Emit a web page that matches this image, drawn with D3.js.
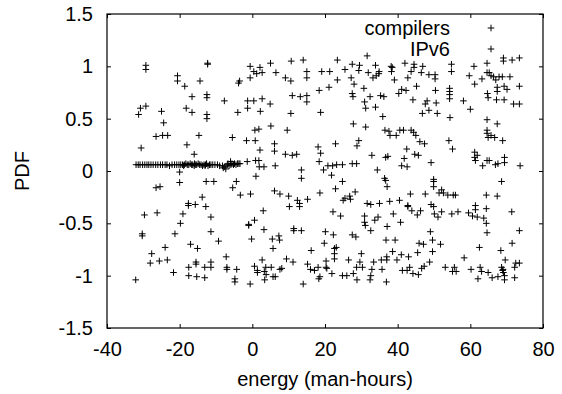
<!DOCTYPE html>
<html>
<head>
<meta charset="utf-8">
<script src="https://cdn.jsdelivr.net/npm/d3@7"></script>
<style>
  body { margin: 0; background: #fff; }
  text { font-family: "Liberation Sans", Arial, sans-serif; font-size: 20px; fill: #000; }
</style>
</head>
<body>
<svg width="562" height="394"></svg>
<script>
// series: [energy, PDF]
const compilers = [
  [-32.1,-1.04],[-31.3,0.54],[-30.8,0.60],[-30.6,0.22],[-30.3,-0.60],[-30.3,-0.62],[-29.7,-0.42],[-29.3,0.62],[-29.3,1.01],[-29.3,0.97],
  [-27.7,-0.79],[-28.1,-0.88],[-26.5,-0.16],[-26.5,0.33],[-26.2,-0.40],[-25.6,-0.86],[-25.0,0.57],[-24.4,0.46],[-24.7,0.34],[-23.3,0.34],
  [-25.4,-0.15],[-24.0,-0.73],[-23.4,-0.85],[-21.7,-0.97],[-21.3,-0.60],[-20.6,0.91],[-20.6,0.86],[-20.0,-0.01],[-20.0,-0.11],[-19.8,-0.50],
  [-19.1,-0.41],[-18.6,0.81],[-18.2,0.60],[-18.0,0.25],[-17.6,-0.31],[-17.6,-0.33],[-17.5,-0.92],[-17.5,-1.00],[-17.0,-0.70],[-16.6,0.71],
  [-16.6,0.56],[-16.0,0.16],[-15.7,-0.32],[-15.5,-0.87],[-15.5,-0.89],[-15.1,-0.74],[-15.3,-1.01],[-14.7,0.34],[-14.4,0.86],[-13.8,-0.25],
  [-13.1,-0.92],[-13.1,-1.02],[-12.7,-0.10],[-12.8,-0.34],[-12.3,1.03],[-12.3,1.02],[-12.5,0.73],[-12.5,0.70],[-12.5,0.54],[-12.5,0.50],
  [-11.4,-0.92],[-11.4,-0.87],[-11.4,-0.44],[-11.4,-0.58],[-10.6,-0.10],[-9.3,-0.67],[-7.7,0.67],[-7.2,-0.82],[-7.0,-0.92],[-7.0,-0.94],
  [-5.5,0.32],[-5.4,-0.16],[-4.8,-1.03],[-4.8,-1.06],[-4.4,-0.10],[-4.3,-0.94],[-4.0,0.56],[-3.8,0.84],[-3.5,0.86],[-3.3,-0.23],
  // flat run near 0.06
  [-32.0,0.06],[-31.4,0.06],[-30.9,0.06],[-30.2,0.06],[-29.6,0.06],[-29.0,0.06],[-28.5,0.06],[-27.9,0.06],[-27.3,0.06],[-26.6,0.06],
  [-26.0,0.06],[-25.3,0.06],[-24.7,0.06],[-24.0,0.06],[-23.5,0.06],[-22.8,0.05],[-22.1,0.06],[-21.4,0.06],[-20.8,0.06],[-20.2,0.06],
  [-19.7,0.06],[-19.2,0.06],[-18.7,0.06],[-18.3,0.07],[-17.9,0.06],[-17.5,0.06],[-17.1,0.07],[-16.7,0.06],[-16.4,0.06],[-16.0,0.05],
  [-15.7,0.06],[-15.3,0.06],[-14.9,0.07],[-14.5,0.06],[-14.1,0.06],[-13.7,0.05],[-13.3,0.06],[-12.9,0.06],[-12.6,0.07],[-12.2,0.05],
  [-11.8,0.06],[-11.4,0.06],[-10.9,0.06],[-10.3,0.06],[-9.6,0.06],[-9.0,0.05],[-8.2,0.05],[-7.6,0.04],[-7.3,0.02],[-6.9,0.06],
  [-6.4,0.05],[-5.9,0.06],[-5.6,0.07],[-5.2,0.06],[-4.9,0.07],[-4.5,0.06],[-4.1,0.07],[-3.7,0.07],[-3.4,0.07],[-15.9,0.07],
  [-18.9,0.05],[-13.0,0.05],[-8.0,0.03],[-6.7,0.07],[-6.0,0.09],
  [-1.4,0.09],[-1.6,0.29],[-1.3,0.60],[-1.3,0.67],[-1.0,-0.52],[-1.0,-0.51],[-0.6,1.00],[-0.6,0.89],[-0.5,-0.22],[-0.6,-1.08],
  [-0.2,-0.65],[0.4,0.95],[0.4,0.67],[0.7,0.39],[0.8,0.29],[0.9,0.10],[0.6,-0.47],[1.0,-0.05],[0.6,-0.91],[1.2,0.93],
  [1.4,-0.95],[1.4,-0.97],[1.8,0.40],[1.9,0.04],[1.8,0.10],[2.1,0.20],[2.1,0.99],[2.2,0.57],[2.7,0.94],[2.7,0.69],
  [2.7,-0.85],[3.0,-0.38],[3.2,-0.56],[3.3,-0.96],[3.4,-1.04],[3.2,0.04],[3.7,-0.92],[3.8,-0.99],[5.0,1.03],[4.9,0.64],
  [5.1,0.43],[5.2,-0.92],[5.5,-0.65],[5.7,-0.74],[5.7,-1.01],[6.1,0.26],[6.1,0.19],[6.3,0.05],[6.1,-0.19],[6.3,-1.01],
  [6.5,0.94],[7.3,-0.62],[7.5,-0.66],[7.6,-0.22],[7.6,-0.94],[8.1,-0.93],[9.1,0.89],[9.1,0.16],[9.4,-0.84],[9.6,0.39],
  [10.0,-0.24],[10.2,-0.34],[10.6,0.86],[10.6,0.55],[10.7,1.05],[11.0,0.72],[11.0,0.15],[11.2,-0.87],[11.4,-0.55],[11.4,-0.57],
  [12.2,0.16],[12.4,-0.28],[13.0,-0.31],[13.0,-0.34],[13.5,-0.57],[13.5,0.01],[13.5,-0.07],[13.2,0.71],[14.0,1.06],[14.0,-1.08],
  [15.0,0.95],[15.0,0.89],[15.0,0.72],[15.0,0.66],[15.2,-0.27],[15.2,-0.89],[16.0,-0.94],[16.2,-0.76],[17.1,-0.95],[18.1,-0.92],
  [18.3,-1.03],[18.6,-1.01],[18.4,0.77],[18.8,0.56],[18.1,0.23],[18.4,0.09],[18.8,0.17],[18.6,-0.21],[19.1,0.95],[19.6,0.01],
  [19.8,-0.69],[20.1,-0.58],[20.3,-0.86],[20.3,-0.92],[20.5,-0.93],[20.8,0.05],[21.1,0.80],[21.3,0.95],[21.8,-0.04],[21.9,-0.98],
  [22.2,-0.39],[22.3,-0.61],[22.1,0.05],[22.6,-0.74],[22.6,-0.79],[22.6,-0.84],[22.9,-0.17],[22.9,0.26],[23.1,-0.73],[23.2,0.06],
  [23.4,1.06],[23.4,0.87],[24.3,-0.43],[24.8,-1.00],[24.8,0.06],[24.8,-0.10],[25.0,-0.28],[25.5,0.97],[25.5,-0.26],[26.0,-1.00],
  [26.5,-0.85],[26.8,-0.24],[27.0,-0.27],[27.2,0.89],[27.5,1.02],[27.5,0.74],[27.7,0.71],[27.8,0.45],[27.5,0.07],[27.8,-0.98],
  [27.5,-0.61],[28.0,0.83],[28.3,-0.20],[28.5,-0.63],[28.7,-0.92],[28.8,-1.04],[28.7,0.07],[28.8,0.24]
];

const ipv6 = [
  [29.3,0.29],[29.5,1.01],[29.3,0.96],[29.6,-0.87],[30.0,-0.79],[30.3,-0.92],[30.7,0.79],[30.9,0.66],[30.9,-0.43],[30.9,-0.49],
  [31.1,-0.52],[31.2,0.42],[31.2,0.60],[31.6,1.10],[31.6,-0.31],[31.9,0.94],[32.4,0.71],[32.4,-1.04],[32.6,-1.00],[32.6,-0.57],
  [32.6,-0.32],[32.9,-0.94],[32.9,0.15],[33.2,0.89],[33.4,-0.87],[33.7,-0.47],[33.9,0.61],[33.9,1.01],[34.1,0.91],[34.4,0.01],
  [34.6,-0.44],[34.8,0.93],[34.9,0.95],[35.0,-0.31],[35.3,0.72],[35.5,-0.85],[35.7,-0.94],[35.9,0.52],[36.2,0.71],[36.4,-0.07],
  [36.7,-0.09],[36.5,0.39],[36.7,0.13],[36.8,-0.66],[36.9,-1.06],[37.0,-0.85],[37.0,-0.82],[37.1,-0.15],[37.1,-0.53],[37.3,0.14],
  [37.6,0.38],[37.8,-0.29],[37.9,0.34],[38.2,1.00],[38.5,0.99],[38.3,0.95],[38.6,-0.77],[38.8,-0.41],[39.1,0.87],[39.3,-0.66],
  [39.6,0.34],[39.8,-0.85],[40.3,0.74],[40.5,-0.28],[40.6,0.39],[40.8,-0.49],[41.0,-0.80],[41.1,0.78],[41.1,0.05],[41.3,-0.95],
  [41.6,0.39],[41.8,0.12],[42.0,1.03],[42.3,0.77],[42.5,0.21],[42.6,-0.95],[42.6,0.04],[42.8,0.89],[42.8,-0.33],[42.8,-0.34],
  [43.0,-0.82],[43.3,-0.92],[43.5,-0.22],[43.7,0.39],[43.7,0.95],[43.9,-0.38],[44.2,0.68],[44.2,-0.98],[44.4,0.37],[44.5,1.02],
  [44.5,0.99],[44.7,0.16],[45.0,0.34],[45.2,0.81],[45.4,-0.42],[45.5,-0.78],[45.7,0.15],[45.7,-0.99],[45.9,-0.69],[46.1,0.28],
  [46.3,-0.38],[46.5,0.94],[46.6,-0.93],[46.8,0.55],[46.9,1.00],[47.1,-0.70],[47.3,-0.91],[47.4,0.26],[47.6,-0.22],[47.6,0.64],
  [48.1,0.67],[48.6,0.92],[48.6,0.58],[48.8,-0.87],[49.0,-0.58],[49.2,0.08],[49.2,-0.32],[49.6,-0.77],[49.6,-0.66],[49.9,-0.10],
  [49.9,-0.08],[49.9,-0.15],[49.9,-0.34],[50.1,-0.41],[50.3,0.92],[50.3,0.88],[50.4,0.77],[50.6,0.65],[50.9,0.55],[51.1,-0.44],
  [51.4,-0.21],[51.8,-0.70],[52.1,-0.18],[52.1,-0.39],[52.6,-0.21],[53.1,-0.92],[53.8,-0.23],[54.1,0.29],[54.3,0.79],[54.3,0.76],
  [54.3,0.73],[54.3,0.69],[54.4,0.51],[54.8,1.02],[54.8,0.95],[54.9,-0.41],[55.1,0.21],[55.1,-0.96],[55.3,-0.23],[55.6,-0.92],
  [55.9,-0.23],[56.1,-0.96],[56.6,-0.39],[58.1,0.67],[58.3,-0.83],[60.0,0.59],[59.5,-0.40],[59.7,0.91],[60.2,-0.94],[60.6,-0.43],
  [61.0,1.00],[61.2,0.83],[61.2,0.18],[61.2,0.13],[61.4,0.10],[61.4,-0.33],[61.4,-0.37],[61.9,-0.44],[62.1,-1.03],[61.9,0.15],
  [62.5,-0.73],[62.7,-0.92],[63.1,-0.96],[63.2,0.88],[63.4,0.05],[63.7,-0.45],[64.4,-0.36],[64.4,-0.50],[64.6,1.03],[64.6,0.94],
  [64.6,0.49],[64.7,0.74],[64.9,0.70],[64.6,0.39],[64.6,0.36],[64.9,0.32],[64.6,0.10],[64.4,-0.23],[64.6,-0.59],[64.9,-0.97],
  [65.2,0.94],[65.2,0.10],[65.7,0.91],[65.7,0.34],[66.0,-1.02],[66.4,0.90],[66.7,0.32],[66.9,0.06],[67.0,0.87],[67.2,0.68],
  [67.4,-0.24],[67.4,0.80],[67.4,0.76],[67.4,0.45],[67.6,-1.01],[67.6,0.07],[67.9,0.90],[68.4,-0.76],[68.6,-0.10],[68.6,-0.92],
  [68.9,-0.95],[69.1,-0.97],[69.4,-1.00],[69.4,-1.04],[69.0,-0.94],[68.8,0.90],[68.9,0.29],[69.1,1.08],[69.1,1.05],[69.3,0.68],
  [69.3,0.81],[69.4,0.13],[69.4,0.08],[69.6,-0.85],[70.1,0.78],[70.9,0.90],[71.4,-0.39],[71.5,-0.69],[71.5,1.06],[71.9,0.64],
  [72.2,-0.92],[72.2,-1.02],[72.5,-0.88],[73.5,0.64],[73.5,0.81],[73.5,1.08],[73.5,-0.57],[73.5,-0.88],[73.7,0.05]
];

const seriesNames = ['compilers', 'IPv6'];
const xTicks = [-40, -20, 0, 20, 40, 60, 80];
const yTicks = [-1.5, -1, -0.5, 0, 0.5, 1, 1.5];

const svg = d3.select('svg');
const margin = {top: 14, right: 19, bottom: 66, left: 107};
const width = +svg.attr('width');
const height = +svg.attr('height');
const innerWidth = width - margin.left - margin.right;
const innerHeight = height - margin.top - margin.bottom;

const xScale = d3.scaleLinear().domain([-40, 80]).range([0, innerWidth]);
const yScale = d3.scaleLinear().domain([-1.5, 1.5]).range([innerHeight, 0]);

const g = svg.append('g')
  .attr('transform', `translate(${margin.left},${margin.top})`);

const tick = 4;
// gnuplot writes a plain hyphen, not the unicode minus d3 uses
const hyphen = d => String(d).replace('\u2212', '-');

const styleAxis = sel => {
  sel.select('.domain').remove();
  sel.selectAll('.tick line').attr('stroke', '#000');
  sel.selectAll('.tick text').style('font-size', '20px');
};

// ticks point inward on all four sides
g.append('g')
  .attr('transform', `translate(0,${innerHeight})`)
  .call(d3.axisBottom(xScale).tickValues(xTicks).tickFormat(hyphen)
    .tickSizeInner(-tick).tickSizeOuter(0).tickPadding(14))
  .call(styleAxis);

g.append('g')
  .call(d3.axisTop(xScale).tickValues(xTicks).tickSizeInner(-tick).tickSizeOuter(0))
  .call(styleAxis)
  .selectAll('.tick text').remove();

g.append('g')
  .call(d3.axisLeft(yScale).tickValues(yTicks).tickFormat(hyphen)
    .tickSizeInner(-tick).tickSizeOuter(0).tickPadding(14))
  .call(styleAxis);

g.append('g')
  .attr('transform', `translate(${innerWidth},0)`)
  .call(d3.axisRight(yScale).tickValues(yTicks).tickSizeInner(-tick).tickSizeOuter(0))
  .call(styleAxis)
  .selectAll('.tick text').remove();

g.append('rect')
  .attr('width', innerWidth)
  .attr('height', innerHeight)
  .attr('fill', 'none')
  .attr('stroke', '#000')
  .attr('stroke-width', 1.2);

const arm = 3.3;
const plus = sel => sel.append('path')
  .attr('d', `M${-arm},0H${arm}M0,${-arm}V${arm}`)
  .attr('stroke', '#000')
  .attr('stroke-width', 1)
  .attr('fill', 'none');

[compilers, ipv6].forEach(data => {
  g.append('g').selectAll('g').data(data)
    .enter().append('g')
      .attr('transform', d => `translate(${xScale(d[0])},${yScale(d[1])})`)
      .call(plus);
});

// legend
const legend = g.append('g').attr('transform', `translate(${innerWidth - 52},0)`);
seriesNames.forEach((name, i) => {
  const row = legend.append('g').attr('transform', `translate(0,${14 + i * 21})`);
  row.append('text')
    .attr('x', -41)
    .attr('y', 6.5)
    .attr('text-anchor', 'end')
    .text(name);
  row.call(plus);
});

// axis titles
g.append('text')
  .attr('x', innerWidth / 2)
  .attr('y', innerHeight + 58)
  .attr('text-anchor', 'middle')
  .text('energy (man-hours)');

g.append('text')
  .attr('transform', `translate(${-78},${innerHeight / 2}) rotate(-90)`)
  .attr('text-anchor', 'middle')
  .text('PDF');
</script>
</body>
</html>
